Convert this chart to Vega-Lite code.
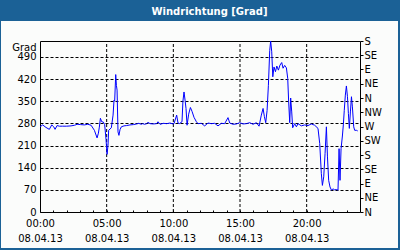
{
  "$schema": "https://vega.github.io/schema/vega-lite/v6.json",
  "width": 397,
  "height": 227,
  "autosize": {"type": "none"},
  "padding": {"left": 1, "right": 2, "top": 21, "bottom": 2},
  "background": "#1b6196",
  "view": {"fill": "#fbfcfb", "stroke": null},
  "title": {"text": "Windrichtung [Grad]", "color": "white", "font": "DejaVu Sans", "fontSize": 10, "fontWeight": "bold", "anchor": "middle", "frame": "group", "baseline": "alphabetic", "offset": 7, "dx": 10, "dy": 11},
  "data": {"values": [
    {"h": 0.0, "v": 269}, {"h": 0.2, "v": 275}, {"h": 0.45, "v": 267}, {"h": 0.7, "v": 261}, {"h": 0.88, "v": 275},
    {"h": 1.03, "v": 269}, {"h": 1.13, "v": 261}, {"h": 1.28, "v": 273}, {"h": 1.45, "v": 271}, {"h": 1.7, "v": 271},
    {"h": 2.0, "v": 271}, {"h": 2.33, "v": 272}, {"h": 2.6, "v": 274}, {"h": 2.78, "v": 277}, {"h": 3.05, "v": 276},
    {"h": 3.33, "v": 275}, {"h": 3.58, "v": 277}, {"h": 3.83, "v": 274}, {"h": 4.08, "v": 258}, {"h": 4.28, "v": 234},
    {"h": 4.38, "v": 249}, {"h": 4.45, "v": 268}, {"h": 4.53, "v": 296}, {"h": 4.63, "v": 285}, {"h": 4.75, "v": 284},
    {"h": 4.85, "v": 276}, {"h": 4.95, "v": 230}, {"h": 5.03, "v": 182}, {"h": 5.1, "v": 211}, {"h": 5.15, "v": 258},
    {"h": 5.25, "v": 262}, {"h": 5.35, "v": 266}, {"h": 5.48, "v": 306}, {"h": 5.55, "v": 353}, {"h": 5.6, "v": 350},
    {"h": 5.68, "v": 434}, {"h": 5.73, "v": 400}, {"h": 5.78, "v": 385}, {"h": 5.85, "v": 253}, {"h": 5.92, "v": 242},
    {"h": 6.0, "v": 260}, {"h": 6.1, "v": 269}, {"h": 6.3, "v": 272}, {"h": 6.5, "v": 273}, {"h": 6.75, "v": 275},
    {"h": 7.0, "v": 276}, {"h": 7.25, "v": 278}, {"h": 7.4, "v": 280}, {"h": 7.6, "v": 277}, {"h": 7.7, "v": 279},
    {"h": 7.85, "v": 277}, {"h": 8.0, "v": 279}, {"h": 8.1, "v": 283}, {"h": 8.25, "v": 279}, {"h": 8.5, "v": 278},
    {"h": 8.75, "v": 279}, {"h": 8.85, "v": 285}, {"h": 9.0, "v": 277}, {"h": 9.25, "v": 280}, {"h": 9.5, "v": 279},
    {"h": 9.75, "v": 281}, {"h": 9.98, "v": 278}, {"h": 10.05, "v": 279}, {"h": 10.25, "v": 306}, {"h": 10.35, "v": 281},
    {"h": 10.45, "v": 279}, {"h": 10.65, "v": 285}, {"h": 10.72, "v": 350}, {"h": 10.8, "v": 379}, {"h": 10.88, "v": 353},
    {"h": 10.95, "v": 327}, {"h": 11.03, "v": 274}, {"h": 11.15, "v": 309}, {"h": 11.28, "v": 330}, {"h": 11.4, "v": 318},
    {"h": 11.55, "v": 299}, {"h": 11.73, "v": 285}, {"h": 11.85, "v": 279}, {"h": 12.1, "v": 280}, {"h": 12.35, "v": 272},
    {"h": 12.6, "v": 281}, {"h": 12.85, "v": 279}, {"h": 13.1, "v": 280}, {"h": 13.35, "v": 272}, {"h": 13.6, "v": 280},
    {"h": 13.85, "v": 279}, {"h": 14.1, "v": 298}, {"h": 14.23, "v": 281}, {"h": 14.48, "v": 277}, {"h": 14.73, "v": 278},
    {"h": 14.98, "v": 282}, {"h": 15.23, "v": 278}, {"h": 15.48, "v": 279}, {"h": 15.73, "v": 282}, {"h": 15.98, "v": 277},
    {"h": 16.23, "v": 282}, {"h": 16.43, "v": 271}, {"h": 16.6, "v": 306}, {"h": 16.73, "v": 327}, {"h": 16.83, "v": 301},
    {"h": 16.93, "v": 282}, {"h": 17.03, "v": 320}, {"h": 17.13, "v": 400}, {"h": 17.23, "v": 510}, {"h": 17.3, "v": 540},
    {"h": 17.38, "v": 506}, {"h": 17.46, "v": 427}, {"h": 17.55, "v": 458}, {"h": 17.66, "v": 443}, {"h": 17.76, "v": 461},
    {"h": 17.88, "v": 448}, {"h": 18.0, "v": 464}, {"h": 18.13, "v": 472}, {"h": 18.23, "v": 454}, {"h": 18.35, "v": 463},
    {"h": 18.48, "v": 455}, {"h": 18.58, "v": 422}, {"h": 18.65, "v": 348}, {"h": 18.73, "v": 282}, {"h": 18.8, "v": 360},
    {"h": 18.88, "v": 316}, {"h": 18.95, "v": 266}, {"h": 19.1, "v": 279}, {"h": 19.23, "v": 269}, {"h": 19.35, "v": 279},
    {"h": 19.6, "v": 272}, {"h": 19.85, "v": 275}, {"h": 20.1, "v": 273}, {"h": 20.35, "v": 278}, {"h": 20.6, "v": 274},
    {"h": 20.85, "v": 264}, {"h": 20.98, "v": 216}, {"h": 21.1, "v": 121}, {"h": 21.18, "v": 84}, {"h": 21.28, "v": 111},
    {"h": 21.38, "v": 185}, {"h": 21.48, "v": 269}, {"h": 21.56, "v": 174}, {"h": 21.65, "v": 100}, {"h": 21.75, "v": 79},
    {"h": 21.86, "v": 69}, {"h": 21.98, "v": 73}, {"h": 22.1, "v": 70}, {"h": 22.23, "v": 71}, {"h": 22.35, "v": 69},
    {"h": 22.43, "v": 200}, {"h": 22.5, "v": 100}, {"h": 22.58, "v": 200}, {"h": 22.68, "v": 240}, {"h": 22.75, "v": 275},
    {"h": 22.82, "v": 321}, {"h": 22.9, "v": 369}, {"h": 22.98, "v": 398}, {"h": 23.06, "v": 364}, {"h": 23.13, "v": 311},
    {"h": 23.2, "v": 264}, {"h": 23.28, "v": 316}, {"h": 23.36, "v": 364}, {"h": 23.43, "v": 332}, {"h": 23.53, "v": 269},
    {"h": 23.6, "v": 258}, {"h": 23.73, "v": 258}, {"h": 23.83, "v": 256}
  ]},
  "layer": [
    {
      "data": {"values": [{"g": 5}, {"g": 10}, {"g": 15}, {"g": 20}]},
      "mark": {"type": "rule", "color": "black", "strokeWidth": 1, "strokeDash": [3, 2]},
      "encoding": {
        "x": {"field": "g", "type": "quantitative",
          "scale": {"domain": [0, 24], "range": [39, 359], "nice": false, "zero": false}, "axis": null},
        "y": {"datum": 0, "type": "quantitative",
          "scale": {"domain": [0, 540], "range": [191, 20], "nice": false, "zero": false}, "axis": null},
        "y2": {"datum": 540}
      }
    },
    {
      "mark": {"type": "line", "color": "#0000ff", "strokeWidth": 1},
      "encoding": {
        "x": {"field": "h", "type": "quantitative",
          "scale": {"domain": [0, 24], "range": [39, 359], "nice": false, "zero": false},
          "axis": {"orient": "bottom", "offset": -36, "values": [0, 5, 10, 15, 20],
            "labelExpr": "[(datum.value < 10 ? '0' : '') + datum.value + ':00', '08.04.13']",
            "labelLineHeight": 15, "labelPadding": 6, "labelFont": "DejaVu Sans", "labelFontSize": 10,
            "labelColor": "black", "labelFlush": false, "labelOverlap": false, "labelBound": false,
            "ticks": false, "domain": true, "domainColor": "black", "domainWidth": 1,
            "grid": false, "title": null}
        },
        "y": {"field": "v", "type": "quantitative",
          "scale": {"domain": [0, 540], "range": [191, 20], "nice": false, "zero": false},
          "axis": {"orient": "left", "offset": -39, "values": [0, 70, 140, 210, 280, 350, 420, 490],
            "ticks": false, "labelPadding": 4, "labelFont": "DejaVu Sans", "labelFontSize": 10,
            "labelColor": "black", "labelFlush": false, "labelOverlap": false, "labelBound": false,
            "domain": true, "domainColor": "black", "domainWidth": 1,
            "grid": true, "gridColor": "black", "gridDash": [3, 2], "gridOpacity": 1, "gridWidth": 1,
            "title": "Grad", "titleAngle": 0, "titleAlign": "right", "titleBaseline": "alphabetic",
            "titleX": -4, "titleY": 29, "titleFont": "DejaVu Sans", "titleFontSize": 10,
            "titleFontWeight": "normal", "titleColor": "black"}
        }
      }
    },
    {
      "mark": {"type": "line", "opacity": 0},
      "encoding": {
        "x": {"field": "h", "type": "quantitative",
          "scale": {"domain": [0, 24], "range": [39, 359], "nice": false, "zero": false},
          "axis": {"orient": "top", "offset": -20, "labels": false, "ticks": false, "grid": false,
            "domain": true, "domainColor": "black", "domainWidth": 1, "title": null}
        },
        "y": {"field": "v", "type": "quantitative",
          "scale": {"domain": [0, 540], "range": [191, 20], "nice": false, "zero": false},
          "axis": {"orient": "right", "offset": -38, "values": [0, 45, 90, 135, 180, 225, 270, 315, 360, 405, 450, 495, 540],
            "labelExpr": "['N','NE','E','SE','S','SW','W','NW'][round(datum.value / 45) % 8]",
            "tickSize": 3, "tickColor": "black", "tickWidth": 1, "labelPadding": 1,
            "labelFont": "DejaVu Sans", "labelFontSize": 10, "labelColor": "black",
            "labelFlush": false, "labelOverlap": false, "labelBound": false, "labelBaseline": "middle",
            "domain": true, "domainColor": "black", "domainWidth": 1, "grid": false, "title": null}
        }
      }
    },
    {
      "mark": {"type": "line", "opacity": 0},
      "encoding": {
        "x": {"field": "h", "type": "quantitative",
          "scale": {"domain": [0, 24], "range": [39, 359], "nice": false, "zero": false},
          "axis": {"orient": "bottom", "offset": -36,
            "values": [1, 2, 3, 4, 5, 6, 7, 8, 9, 10, 11, 12, 13, 14, 15, 16, 17, 18, 19, 20, 21, 22, 23],
            "labels": false, "ticks": true, "tickSize": -2, "tickColor": "black", "tickWidth": 1,
            "domain": false, "grid": false, "title": null}
        },
        "y": {"field": "v", "type": "quantitative",
          "scale": {"domain": [0, 540], "range": [191, 20], "nice": false, "zero": false},
          "axis": null
        }
      }
    }
  ],
  "resolve": {"axis": {"x": "independent", "y": "independent"}}
}
